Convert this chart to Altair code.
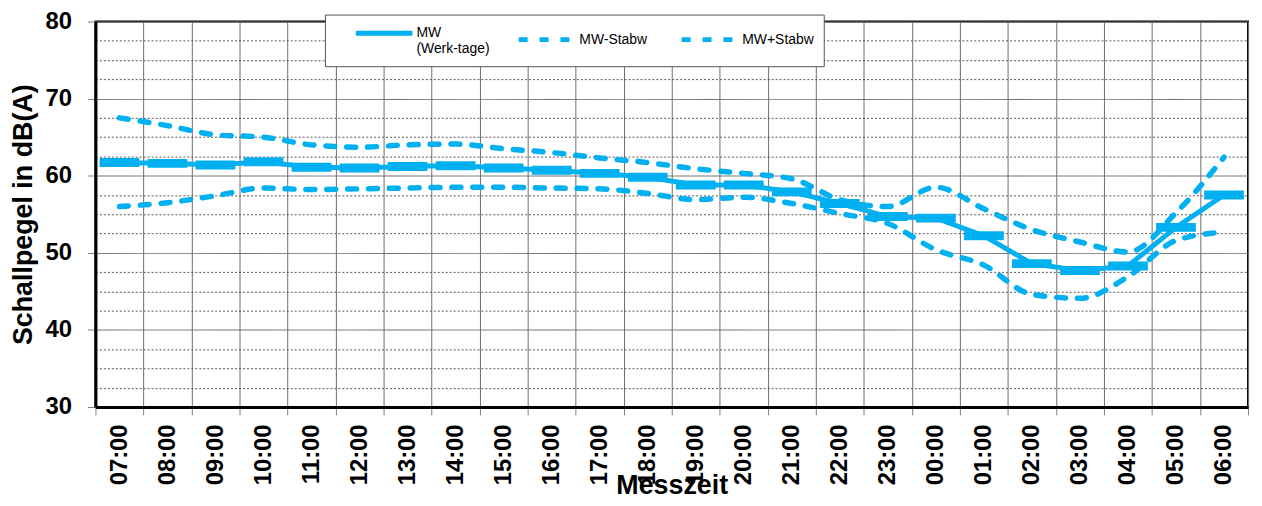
import altair as alt
import pandas as pd

hours = ["07:00", "08:00", "09:00", "10:00", "11:00", "12:00", "13:00", "14:00",
         "15:00", "16:00", "17:00", "18:00", "19:00", "20:00", "21:00", "22:00",
         "23:00", "00:00", "01:00", "02:00", "03:00", "04:00", "05:00", "06:00"]

mw = [61.7, 61.6, 61.4, 61.8, 61.1, 61.0, 61.2, 61.3,
      61.0, 60.7, 60.3, 59.8, 58.8, 58.8, 57.9, 56.4,
      54.7, 54.5, 52.2, 48.6, 47.7, 48.3, 53.3, 57.5]

mw_minus = [56.0, 56.5, 57.4, 58.4, 58.2, 58.3, 58.4, 58.5,
            58.5, 58.4, 58.3, 57.7, 56.9, 57.2, 56.4, 55.1,
            53.8, 50.4, 48.4, 44.6, 44.1, 46.9, 51.6, 52.7]

mw_plus = [67.5, 66.5, 65.3, 65.0, 64.0, 63.7, 64.0, 64.1,
           63.5, 63.0, 62.3, 61.7, 60.9, 60.3, 59.6, 56.9,
           56.0, 58.5, 55.7, 53.0, 51.4, 50.1, 55.2, 62.4]

series_names = ["MW|(Werk-tage)", "MW-Stabw", "MW+Stabw"]
y_ticks = [30, 32.5, 35, 37.5, 40, 42.5, 45, 47.5, 50, 52.5, 55, 57.5,
           60, 62.5, 65, 67.5, 70, 72.5, 75, 77.5, 80]

rows = []
for name, vals in zip(series_names, [mw, mw_minus, mw_plus]):
    for h, v in zip(hours, vals):
        rows.append({"Stunde": h, "Reihe": name, "Wert": v})
df = pd.DataFrame(rows)

blue = "#00B0F0"
major = "datum.value % 10 === 0"

x_enc = alt.X(
    "Stunde:N", sort=hours,
    scale=alt.Scale(type="band", paddingInner=0, paddingOuter=0),
    axis=alt.Axis(
        title="Messzeit", titleFontSize=27, titleFontWeight="bold", titleColor="black",
        titleY=87, titleBaseline="alphabetic",
        labelAngle=270, labelAlign="right", labelBaseline="middle",
        labelFontSize=24, labelFontWeight="bold", labelColor="black", labelPadding=9,
        tickBand="extent", tickSize=8, tickColor="#808080", tickWidth=1,
        grid=True, gridColor="#6e6e6e", gridWidth=1,
        domainColor="black", domainWidth=3, labelOverlap=False,
    ),
)

y_enc = alt.Y(
    "Wert:Q",
    scale=alt.Scale(domain=[30, 80], nice=False, zero=False),
    axis=alt.Axis(
        values=y_ticks,
        labelExpr=f"{major} ? datum.label : ''",
        title="Schallpegel in dB(A)", titleFontSize=27, titleFontWeight="bold",
        titleColor="black", titlePadding=8,
        labelFontSize=24, labelFontWeight="bold", labelColor="black", labelPadding=16,
        tickSize=8, tickColor="#808080",
        tickOpacity={"condition": {"test": major, "value": 1}, "value": 0},
        grid=True,
        gridColor={"condition": {"test": major, "value": "#6e6e6e"}, "value": "#555555"},
        gridDash={"condition": {"test": major, "value": [1, 0]}, "value": [2, 2]},
        gridWidth=1,
        domainColor="black", domainWidth=3,
    ),
)

legend = alt.Legend(
    title=None, orient="none", legendX=231, legendY=-7,
    direction="horizontal", columns=3, gridAlign="all", columnPadding=8,
    symbolType="M-5,0H5", symbolSize=130, symbolStrokeWidth=5, symbolOffset=41,
    labelOffset=24, labelFontSize=14, labelColor="black", labelFont="Liberation Sans",
    labelBaseline="middle",
    labelExpr="split(datum.label, '|')",
    padding=10, fillColor="white", strokeColor="#555555",
)

color_enc = alt.Color("Reihe:N", scale=alt.Scale(domain=series_names, range=[blue, blue, blue]),
                      legend=legend)
dash_enc = alt.StrokeDash("Reihe:N",
                          scale=alt.Scale(domain=series_names, range=[[1, 0], [9, 12], [9, 12]]),
                          legend=legend)

base = alt.Chart(df).encode(x=x_enc, y=y_enc)

dashed = base.transform_filter("datum.Reihe !== 'MW|(Werk-tage)'").mark_line(
    interpolate="monotone", strokeWidth=5.5, strokeCap="round"
).encode(color=color_enc, strokeDash=dash_enc)

mw_line = base.transform_filter("datum.Reihe === 'MW|(Werk-tage)'").mark_line(
    strokeWidth=5
).encode(color=color_enc, strokeDash=dash_enc)

mw_ticks = base.transform_filter("datum.Reihe === 'MW|(Werk-tage)'").mark_tick(
    size=40, thickness=9, color=blue, opacity=1
)

chart = alt.layer(dashed, mw_line, mw_ticks).properties(
    width=1160, height=388,
    autosize=alt.AutoSizeParams(type="none"),
    padding={"left": 88, "top": 12, "right": 6, "bottom": 92},
).configure(
    font="Liberation Sans"
).configure_view(
    stroke="black", strokeWidth=2
)

chart.save("out.html", embed_options={"renderer": "svg", "actions": False})
